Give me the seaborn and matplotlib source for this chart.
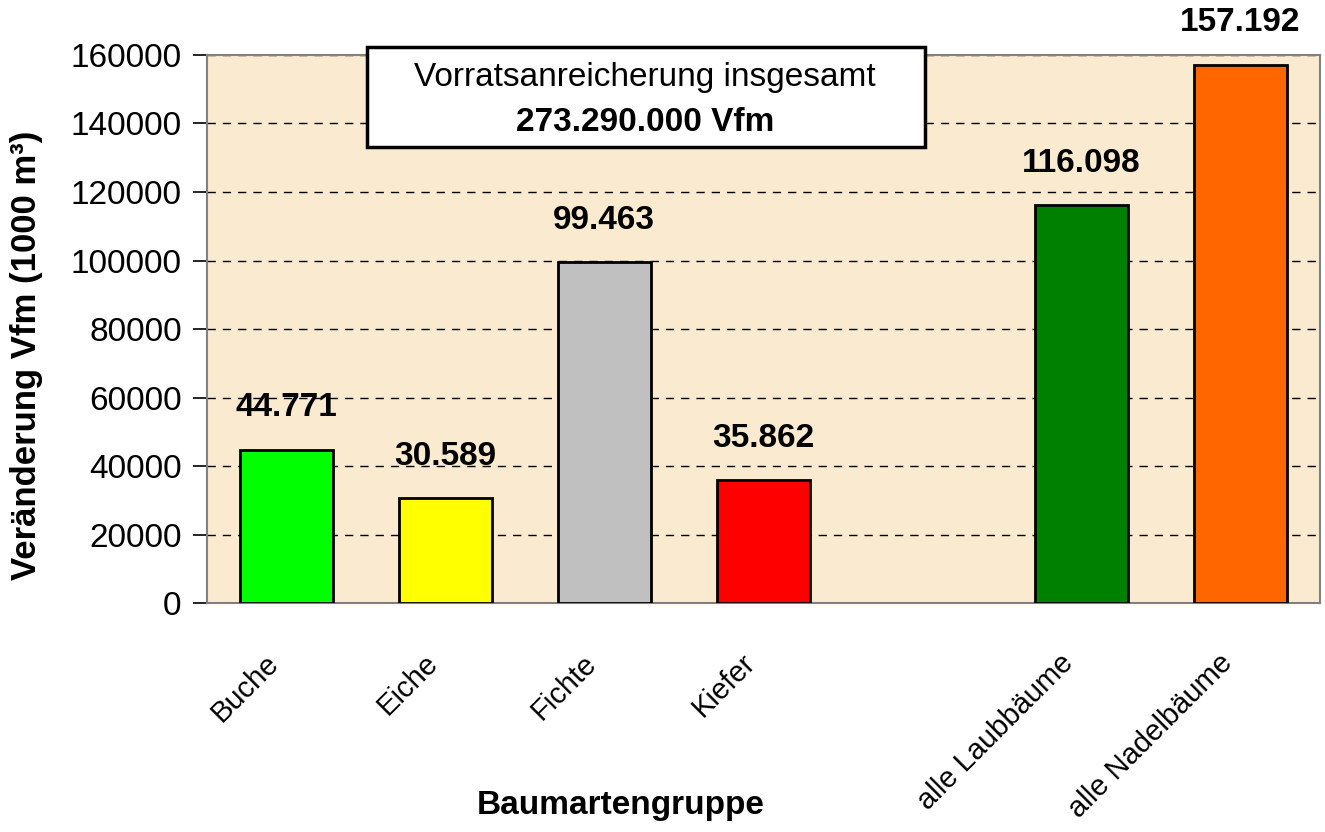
import numpy as np
import pandas as pd
import matplotlib.pyplot as plt
import matplotlib.transforms as mtransforms
from matplotlib.patches import Rectangle
import seaborn as sns

# data (1000 m³)
categories = ['Buche', 'Eiche', 'Fichte', 'Kiefer', 'alle Laubbäume', 'alle Nadelbäume']
values = [44771, 30589, 99463, 35862, 116098, 157192]
value_labels = ['44.771', '30.589', '99.463', '35.862', '116.098', '157.192']
bar_colors = ['#00FF00', '#FFFF00', '#C0C0C0', '#FF0000', '#008000', '#FF6600']
# the empty slot between Kiefer and alle Laubbäume
order = ['Buche', 'Eiche', 'Fichte', 'Kiefer', ' ', 'alle Laubbäume', 'alle Nadelbäume']
y_ticks = [0, 20000, 40000, 60000, 80000, 100000, 120000, 140000, 160000]

df = pd.DataFrame({'Baumart': categories, 'Vfm': values})

sns.set_theme(style='white')
plt.rcParams['font.family'] = ['Liberation Sans', 'DejaVu Sans']
plt.rcParams['text.color'] = 'black'
plt.rcParams['axes.labelcolor'] = 'black'
plt.rcParams['xtick.color'] = 'black'
plt.rcParams['ytick.color'] = 'black'

FS = 24

fig = plt.figure(figsize=(13.25, 8.32), dpi=100)
ax = fig.add_axes([0.156, 0.275, 0.84, 0.659])
ax.set_facecolor('#FAEBD0')

palette = dict(zip(categories, bar_colors))
palette[' '] = '#FFFFFF'
sns.barplot(data=df, x='Baumart', y='Vfm', order=order, hue='Baumart',
            palette=palette, hue_order=order, legend=False, saturation=1,
            width=0.585, edgecolor='black', linewidth=2, ax=ax, zorder=3)

ax.set_ylim(0, 160000)
ax.set_xlim(-0.5, len(order) - 0.5)
ax.set_yticks(y_ticks)
ax.set_yticklabels([str(t) for t in y_ticks], fontsize=FS)
ax.yaxis.grid(True, linestyle=(0, (6, 5)), color='black', linewidth=1, zorder=1)
ax.set_axisbelow(True)

# category labels, ticks between categories
ax.set_xticks(range(len(order)))
ax.set_xticklabels(order, rotation=45, ha='right', va='center',
                   rotation_mode='anchor', fontsize=21)
ax.tick_params(axis='x', length=0, pad=40)
shift = mtransforms.ScaledTranslation(-12 / 100, 0, fig.dpi_scale_trans)
for lab in ax.get_xticklabels():
    lab.set_transform(lab.get_transform() + shift)
ax.set_xticks(np.arange(-0.5, len(order), 1.0), minor=True)
ax.tick_params(axis='x', which='minor', length=10, width=1.2, color='black', direction='out')
ax.tick_params(axis='y', length=10, width=1.2, color='black', direction='out', left=True, pad=8)

for s in ax.spines.values():
    s.set_color('#808080')
    s.set_linewidth(1.5)

# value labels above bars
for cat, v, txt in zip(categories, values, value_labels):
    xpos = order.index(cat)
    ax.annotate(txt, (xpos, v), xytext=(0, 19), textcoords='offset points',
                ha='center', va='bottom', fontsize=FS, fontweight='bold',
                annotation_clip=False)

ax.set_xlabel('Baumartengruppe', fontsize=FS, fontweight='bold')
ax.xaxis.set_label_coords(0.372, -0.34)
ax.set_ylabel('Veränderung Vfm (1000 m³)', fontsize=25, fontweight='bold')
ax.yaxis.set_label_coords(-0.147, 0.453)

# total box
box = Rectangle((0.144, 0.832), 0.501, 0.183, transform=ax.transAxes,
                facecolor='white', edgecolor='black', linewidth=2.5,
                zorder=5, clip_on=False)
ax.add_patch(box)
ax.text(0.394, 0.958, 'Vorratsanreicherung insgesamt', transform=ax.transAxes,
        ha='center', va='center', fontsize=FS, zorder=6)
ax.text(0.394, 0.876, '273.290.000 Vfm', transform=ax.transAxes,
        ha='center', va='center', fontsize=FS, fontweight='bold', zorder=6)

# title, cut off by the top edge as in the original
fig.text(0.64, 1.0 + 7 / 832, 'Vorratsveränderung je Baumartengruppe (1000 m³)',
         ha='center', va='baseline', fontsize=FS, fontweight='bold')

fig.savefig('out.png', dpi=100)
